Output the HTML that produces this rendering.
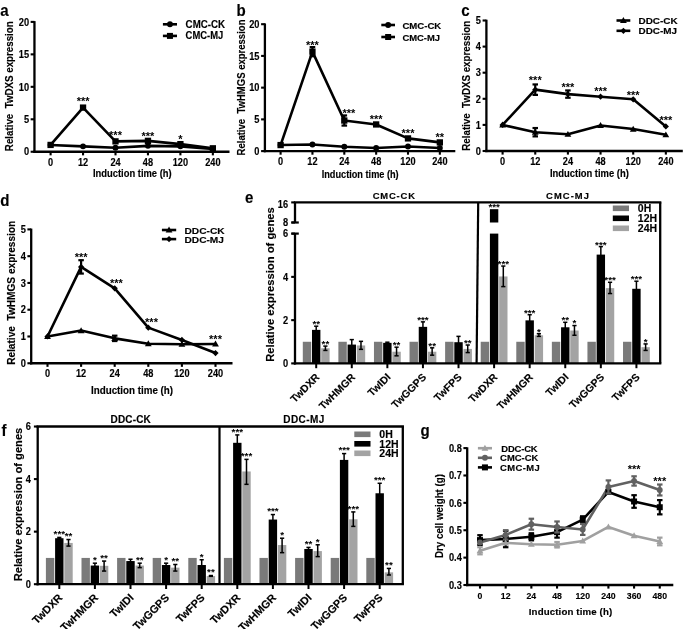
<!DOCTYPE html>
<html><head><meta charset="utf-8"><style>
html,body{margin:0;padding:0;background:#fff;}
body{width:685px;height:629px;overflow:hidden;}
svg{display:block;will-change:transform;}
text{white-space:pre;}
text{font-family:"Liberation Sans", sans-serif;}
</style></head><body>
<svg width="685" height="629" viewBox="0 0 685 629" font-family='"Liberation Sans", sans-serif'>
<rect width="685" height="629" fill="#fff"/>
<line x1="34.45" y1="21.1" x2="34.45" y2="152.9" stroke="#000" stroke-width="2.3" stroke-linecap="butt"/>
<line x1="33.3" y1="151.75" x2="229.5" y2="151.75" stroke="#000" stroke-width="2.3" stroke-linecap="butt"/>
<line x1="30.65" y1="151.75" x2="34.45" y2="151.75" stroke="#000" stroke-width="2.1" stroke-linecap="butt"/>
<text x="0" y="0" font-size="10.3" text-anchor="end" font-weight="bold" fill="#000" transform="translate(29.05 155.45) scale(0.9000 1)" stroke="#000" stroke-width="0.15">0</text>
<line x1="30.65" y1="119.29" x2="34.45" y2="119.29" stroke="#000" stroke-width="2.1" stroke-linecap="butt"/>
<text x="0" y="0" font-size="10.3" text-anchor="end" font-weight="bold" fill="#000" transform="translate(29.05 122.99) scale(0.9000 1)" stroke="#000" stroke-width="0.15">5</text>
<line x1="30.65" y1="86.83" x2="34.45" y2="86.83" stroke="#000" stroke-width="2.1" stroke-linecap="butt"/>
<text x="0" y="0" font-size="10.3" text-anchor="end" font-weight="bold" fill="#000" transform="translate(29.05 90.53) scale(0.9000 1)" stroke="#000" stroke-width="0.15">10</text>
<line x1="30.65" y1="54.36" x2="34.45" y2="54.36" stroke="#000" stroke-width="2.1" stroke-linecap="butt"/>
<text x="0" y="0" font-size="10.3" text-anchor="end" font-weight="bold" fill="#000" transform="translate(29.05 58.06) scale(0.9000 1)" stroke="#000" stroke-width="0.15">15</text>
<line x1="30.65" y1="21.9" x2="34.45" y2="21.9" stroke="#000" stroke-width="2.1" stroke-linecap="butt"/>
<text x="0" y="0" font-size="10.3" text-anchor="end" font-weight="bold" fill="#000" transform="translate(29.05 25.6) scale(0.9000 1)" stroke="#000" stroke-width="0.15">20</text>
<line x1="50.6" y1="151.75" x2="50.6" y2="155.35" stroke="#000" stroke-width="2.1" stroke-linecap="butt"/>
<text x="0" y="0" font-size="10.2" text-anchor="middle" font-weight="bold" fill="#000" transform="translate(50.6 165.85) scale(0.9000 1)" stroke="#000" stroke-width="0.15">0</text>
<line x1="83.05" y1="151.75" x2="83.05" y2="155.35" stroke="#000" stroke-width="2.1" stroke-linecap="butt"/>
<text x="0" y="0" font-size="10.2" text-anchor="middle" font-weight="bold" fill="#000" transform="translate(83.05 165.85) scale(0.9000 1)" stroke="#000" stroke-width="0.15">12</text>
<line x1="115.5" y1="151.75" x2="115.5" y2="155.35" stroke="#000" stroke-width="2.1" stroke-linecap="butt"/>
<text x="0" y="0" font-size="10.2" text-anchor="middle" font-weight="bold" fill="#000" transform="translate(115.5 165.85) scale(0.9000 1)" stroke="#000" stroke-width="0.15">24</text>
<line x1="147.95" y1="151.75" x2="147.95" y2="155.35" stroke="#000" stroke-width="2.1" stroke-linecap="butt"/>
<text x="0" y="0" font-size="10.2" text-anchor="middle" font-weight="bold" fill="#000" transform="translate(147.95 165.85) scale(0.9000 1)" stroke="#000" stroke-width="0.15">48</text>
<line x1="180.4" y1="151.75" x2="180.4" y2="155.35" stroke="#000" stroke-width="2.1" stroke-linecap="butt"/>
<text x="0" y="0" font-size="10.2" text-anchor="middle" font-weight="bold" fill="#000" transform="translate(180.4 165.85) scale(0.9000 1)" stroke="#000" stroke-width="0.15">120</text>
<line x1="212.85" y1="151.75" x2="212.85" y2="155.35" stroke="#000" stroke-width="2.1" stroke-linecap="butt"/>
<text x="0" y="0" font-size="10.2" text-anchor="middle" font-weight="bold" fill="#000" transform="translate(212.85 165.85) scale(0.9000 1)" stroke="#000" stroke-width="0.15">240</text>
<polyline points="50.6,144.93 83.05,146.36 115.5,147.72 147.95,145.84 180.4,146.36 212.85,148.83" fill="none" stroke="#000" stroke-width="2.6" stroke-linejoin="round"/>
<polyline points="50.6,144.93 83.05,107.6 115.5,141.36 147.95,140.84 180.4,144.15 212.85,148.31" fill="none" stroke="#000" stroke-width="2.6" stroke-linejoin="round"/>
<circle cx="50.6" cy="144.93" r="2.95" fill="#000"/>
<circle cx="83.05" cy="146.36" r="2.95" fill="#000"/>
<circle cx="115.5" cy="147.72" r="2.95" fill="#000"/>
<circle cx="147.95" cy="145.84" r="2.95" fill="#000"/>
<circle cx="180.4" cy="146.36" r="2.95" fill="#000"/>
<circle cx="212.85" cy="148.83" r="2.95" fill="#000"/>
<rect x="47.45" y="141.78" width="6.3" height="6.3" fill="#000"/>
<rect x="79.9" y="104.45" width="6.3" height="6.3" fill="#000"/>
<rect x="112.35" y="138.21" width="6.3" height="6.3" fill="#000"/>
<rect x="144.8" y="137.69" width="6.3" height="6.3" fill="#000"/>
<rect x="177.25" y="141" width="6.3" height="6.3" fill="#000"/>
<rect x="209.7" y="145.16" width="6.3" height="6.3" fill="#000"/>
<text x="0" y="0" font-size="11" text-anchor="middle" font-weight="bold" fill="#000" transform="translate(83.05 105)">***</text>
<text x="0" y="0" font-size="11" text-anchor="middle" font-weight="bold" fill="#000" transform="translate(115.5 138.8)">***</text>
<text x="0" y="0" font-size="11" text-anchor="middle" font-weight="bold" fill="#000" transform="translate(147.95 139.7)">***</text>
<text x="0" y="0" font-size="11" text-anchor="middle" font-weight="bold" fill="#000" transform="translate(180.4 142.5)">*</text>
<line x1="162.9" y1="24.3" x2="177" y2="24.3" stroke="#000" stroke-width="2.6" stroke-linecap="butt"/>
<circle cx="169.95" cy="24.3" r="2.95" fill="#000"/>
<text x="0" y="0" font-size="10.4" text-anchor="start" font-weight="bold" fill="#000" transform="translate(185.6 27.8) scale(0.9367 1)" stroke="#000" stroke-width="0.15">CMC-CK</text>
<line x1="162.9" y1="35.9" x2="177" y2="35.9" stroke="#000" stroke-width="2.6" stroke-linecap="butt"/>
<rect x="166.95" y="32.9" width="6" height="6" fill="#000"/>
<text x="0" y="0" font-size="10.4" text-anchor="start" font-weight="bold" fill="#000" transform="translate(185.6 39.4) scale(0.9063 1)" stroke="#000" stroke-width="0.15">CMC-MJ</text>
<text x="0" y="0" font-size="10.4" text-anchor="start" font-weight="bold" fill="#000" transform="translate(93 177.1) scale(0.9033 1)" stroke="#000" stroke-width="0.15">Induction time (h)</text>
<text x="0" y="0" font-size="10.4" text-anchor="middle" font-weight="bold" fill="#000" transform="translate(12.7 86.2) rotate(-90) scale(0.9384 1)" stroke="#000" stroke-width="0.15">Relative  TwDXS expression</text>
<text x="0" y="0" font-size="17.3" text-anchor="start" font-weight="bold" fill="#000" transform="translate(0.3 15.7) scale(0.8700 1)" stroke="#000" stroke-width="0.15">a</text>
<line x1="264.9" y1="23.4" x2="264.9" y2="152.25" stroke="#000" stroke-width="2.3" stroke-linecap="butt"/>
<line x1="263.75" y1="151.1" x2="455.3" y2="151.1" stroke="#000" stroke-width="2.3" stroke-linecap="butt"/>
<line x1="261.1" y1="151.1" x2="264.9" y2="151.1" stroke="#000" stroke-width="2.1" stroke-linecap="butt"/>
<text x="0" y="0" font-size="10.3" text-anchor="end" font-weight="bold" fill="#000" transform="translate(259.5 154.8) scale(0.9000 1)" stroke="#000" stroke-width="0.15">0</text>
<line x1="261.1" y1="119.38" x2="264.9" y2="119.38" stroke="#000" stroke-width="2.1" stroke-linecap="butt"/>
<text x="0" y="0" font-size="10.3" text-anchor="end" font-weight="bold" fill="#000" transform="translate(259.5 123.08) scale(0.9000 1)" stroke="#000" stroke-width="0.15">5</text>
<line x1="261.1" y1="87.65" x2="264.9" y2="87.65" stroke="#000" stroke-width="2.1" stroke-linecap="butt"/>
<text x="0" y="0" font-size="10.3" text-anchor="end" font-weight="bold" fill="#000" transform="translate(259.5 91.35) scale(0.9000 1)" stroke="#000" stroke-width="0.15">10</text>
<line x1="261.1" y1="55.92" x2="264.9" y2="55.92" stroke="#000" stroke-width="2.1" stroke-linecap="butt"/>
<text x="0" y="0" font-size="10.3" text-anchor="end" font-weight="bold" fill="#000" transform="translate(259.5 59.62) scale(0.9000 1)" stroke="#000" stroke-width="0.15">15</text>
<line x1="261.1" y1="24.2" x2="264.9" y2="24.2" stroke="#000" stroke-width="2.1" stroke-linecap="butt"/>
<text x="0" y="0" font-size="10.3" text-anchor="end" font-weight="bold" fill="#000" transform="translate(259.5 27.9) scale(0.9000 1)" stroke="#000" stroke-width="0.15">20</text>
<line x1="280.6" y1="151.1" x2="280.6" y2="154.7" stroke="#000" stroke-width="2.1" stroke-linecap="butt"/>
<text x="0" y="0" font-size="10.2" text-anchor="middle" font-weight="bold" fill="#000" transform="translate(280.6 165.2) scale(0.9000 1)" stroke="#000" stroke-width="0.15">0</text>
<line x1="312.45" y1="151.1" x2="312.45" y2="154.7" stroke="#000" stroke-width="2.1" stroke-linecap="butt"/>
<text x="0" y="0" font-size="10.2" text-anchor="middle" font-weight="bold" fill="#000" transform="translate(312.45 165.2) scale(0.9000 1)" stroke="#000" stroke-width="0.15">12</text>
<line x1="344.3" y1="151.1" x2="344.3" y2="154.7" stroke="#000" stroke-width="2.1" stroke-linecap="butt"/>
<text x="0" y="0" font-size="10.2" text-anchor="middle" font-weight="bold" fill="#000" transform="translate(344.3 165.2) scale(0.9000 1)" stroke="#000" stroke-width="0.15">24</text>
<line x1="376.15" y1="151.1" x2="376.15" y2="154.7" stroke="#000" stroke-width="2.1" stroke-linecap="butt"/>
<text x="0" y="0" font-size="10.2" text-anchor="middle" font-weight="bold" fill="#000" transform="translate(376.15 165.2) scale(0.9000 1)" stroke="#000" stroke-width="0.15">48</text>
<line x1="408" y1="151.1" x2="408" y2="154.7" stroke="#000" stroke-width="2.1" stroke-linecap="butt"/>
<text x="0" y="0" font-size="10.2" text-anchor="middle" font-weight="bold" fill="#000" transform="translate(408 165.2) scale(0.9000 1)" stroke="#000" stroke-width="0.15">120</text>
<line x1="439.85" y1="151.1" x2="439.85" y2="154.7" stroke="#000" stroke-width="2.1" stroke-linecap="butt"/>
<text x="0" y="0" font-size="10.2" text-anchor="middle" font-weight="bold" fill="#000" transform="translate(439.85 165.2) scale(0.9000 1)" stroke="#000" stroke-width="0.15">240</text>
<polyline points="280.6,145.07 312.45,144.56 344.3,146.79 376.15,147.93 408,146.53 439.85,147.93" fill="none" stroke="#000" stroke-width="2.6" stroke-linejoin="round"/>
<polyline points="280.6,145.07 312.45,51.67 344.3,120.52 376.15,124.45 408,138.41 439.85,142.41" fill="none" stroke="#000" stroke-width="2.6" stroke-linejoin="round"/>
<circle cx="280.6" cy="145.07" r="2.95" fill="#000"/>
<circle cx="312.45" cy="144.56" r="2.95" fill="#000"/>
<circle cx="344.3" cy="146.79" r="2.95" fill="#000"/>
<circle cx="376.15" cy="147.93" r="2.95" fill="#000"/>
<circle cx="408" cy="146.53" r="2.95" fill="#000"/>
<circle cx="439.85" cy="147.93" r="2.95" fill="#000"/>
<rect x="277.45" y="141.92" width="6.3" height="6.3" fill="#000"/>
<line x1="312.45" y1="47.11" x2="312.45" y2="56.24" stroke="#000" stroke-width="2.2" stroke-linecap="butt"/>
<line x1="309.65" y1="47.11" x2="315.25" y2="47.11" stroke="#000" stroke-width="2.2" stroke-linecap="butt"/>
<line x1="309.65" y1="56.24" x2="315.25" y2="56.24" stroke="#000" stroke-width="2.2" stroke-linecap="butt"/>
<rect x="309.3" y="48.52" width="6.3" height="6.3" fill="#000"/>
<line x1="344.3" y1="115.44" x2="344.3" y2="125.59" stroke="#000" stroke-width="2.2" stroke-linecap="butt"/>
<line x1="341.5" y1="115.44" x2="347.1" y2="115.44" stroke="#000" stroke-width="2.2" stroke-linecap="butt"/>
<line x1="341.5" y1="125.59" x2="347.1" y2="125.59" stroke="#000" stroke-width="2.2" stroke-linecap="butt"/>
<rect x="341.15" y="117.37" width="6.3" height="6.3" fill="#000"/>
<rect x="373" y="121.3" width="6.3" height="6.3" fill="#000"/>
<rect x="404.85" y="135.26" width="6.3" height="6.3" fill="#000"/>
<rect x="436.7" y="139.26" width="6.3" height="6.3" fill="#000"/>
<text x="0" y="0" font-size="11" text-anchor="middle" font-weight="bold" fill="#000" transform="translate(312.45 48.59)">***</text>
<text x="0" y="0" font-size="11" text-anchor="middle" font-weight="bold" fill="#000" transform="translate(348.8 116.59)">***</text>
<text x="0" y="0" font-size="11" text-anchor="middle" font-weight="bold" fill="#000" transform="translate(376.15 122.7)">***</text>
<text x="0" y="0" font-size="11" text-anchor="middle" font-weight="bold" fill="#000" transform="translate(408 136.6)">***</text>
<text x="0" y="0" font-size="11" text-anchor="middle" font-weight="bold" fill="#000" transform="translate(439.85 140.7)">**</text>
<line x1="381.3" y1="25" x2="395" y2="25" stroke="#000" stroke-width="2.6" stroke-linecap="butt"/>
<circle cx="388.15" cy="25" r="2.95" fill="#000"/>
<text x="0" y="0" font-size="9.9" text-anchor="start" font-weight="bold" fill="#000" transform="translate(402.4 28.5) scale(0.9690 1)" stroke="#000" stroke-width="0.15">CMC-CK</text>
<line x1="381.3" y1="37" x2="395" y2="37" stroke="#000" stroke-width="2.6" stroke-linecap="butt"/>
<rect x="385.15" y="34" width="6" height="6" fill="#000"/>
<text x="0" y="0" font-size="9.9" text-anchor="start" font-weight="bold" fill="#000" transform="translate(402.4 40.5) scale(0.9546 1)" stroke="#000" stroke-width="0.15">CMC-MJ</text>
<text x="0" y="0" font-size="10.4" text-anchor="start" font-weight="bold" fill="#000" transform="translate(321.7 177.8) scale(0.8838 1)" stroke="#000" stroke-width="0.15">Induction time (h)</text>
<text x="0" y="0" font-size="10.4" text-anchor="middle" font-weight="bold" fill="#000" transform="translate(244.6 87.5) rotate(-90) scale(0.9168 1)" stroke="#000" stroke-width="0.15">Relative  TwHMGS expression</text>
<text x="0" y="0" font-size="17.3" text-anchor="start" font-weight="bold" fill="#000" transform="translate(236.6 15.7) scale(0.8700 1)" stroke="#000" stroke-width="0.15">b</text>
<line x1="486.4" y1="19.7" x2="486.4" y2="152.15" stroke="#000" stroke-width="2.3" stroke-linecap="butt"/>
<line x1="485.25" y1="151" x2="682.8" y2="151" stroke="#000" stroke-width="2.3" stroke-linecap="butt"/>
<line x1="482.6" y1="151" x2="486.4" y2="151" stroke="#000" stroke-width="2.1" stroke-linecap="butt"/>
<text x="0" y="0" font-size="10.3" text-anchor="end" font-weight="bold" fill="#000" transform="translate(481 154.7) scale(0.9000 1)" stroke="#000" stroke-width="0.15">0</text>
<line x1="482.6" y1="124.9" x2="486.4" y2="124.9" stroke="#000" stroke-width="2.1" stroke-linecap="butt"/>
<text x="0" y="0" font-size="10.3" text-anchor="end" font-weight="bold" fill="#000" transform="translate(481 128.6) scale(0.9000 1)" stroke="#000" stroke-width="0.15">1</text>
<line x1="482.6" y1="98.8" x2="486.4" y2="98.8" stroke="#000" stroke-width="2.1" stroke-linecap="butt"/>
<text x="0" y="0" font-size="10.3" text-anchor="end" font-weight="bold" fill="#000" transform="translate(481 102.5) scale(0.9000 1)" stroke="#000" stroke-width="0.15">2</text>
<line x1="482.6" y1="72.7" x2="486.4" y2="72.7" stroke="#000" stroke-width="2.1" stroke-linecap="butt"/>
<text x="0" y="0" font-size="10.3" text-anchor="end" font-weight="bold" fill="#000" transform="translate(481 76.4) scale(0.9000 1)" stroke="#000" stroke-width="0.15">3</text>
<line x1="482.6" y1="46.6" x2="486.4" y2="46.6" stroke="#000" stroke-width="2.1" stroke-linecap="butt"/>
<text x="0" y="0" font-size="10.3" text-anchor="end" font-weight="bold" fill="#000" transform="translate(481 50.3) scale(0.9000 1)" stroke="#000" stroke-width="0.15">4</text>
<line x1="482.6" y1="20.5" x2="486.4" y2="20.5" stroke="#000" stroke-width="2.1" stroke-linecap="butt"/>
<text x="0" y="0" font-size="10.3" text-anchor="end" font-weight="bold" fill="#000" transform="translate(481 24.2) scale(0.9000 1)" stroke="#000" stroke-width="0.15">5</text>
<line x1="502.6" y1="151" x2="502.6" y2="154.6" stroke="#000" stroke-width="2.1" stroke-linecap="butt"/>
<text x="0" y="0" font-size="10.2" text-anchor="middle" font-weight="bold" fill="#000" transform="translate(502.6 165.1) scale(0.9000 1)" stroke="#000" stroke-width="0.15">0</text>
<line x1="535.25" y1="151" x2="535.25" y2="154.6" stroke="#000" stroke-width="2.1" stroke-linecap="butt"/>
<text x="0" y="0" font-size="10.2" text-anchor="middle" font-weight="bold" fill="#000" transform="translate(535.25 165.1) scale(0.9000 1)" stroke="#000" stroke-width="0.15">12</text>
<line x1="567.9" y1="151" x2="567.9" y2="154.6" stroke="#000" stroke-width="2.1" stroke-linecap="butt"/>
<text x="0" y="0" font-size="10.2" text-anchor="middle" font-weight="bold" fill="#000" transform="translate(567.9 165.1) scale(0.9000 1)" stroke="#000" stroke-width="0.15">24</text>
<line x1="600.55" y1="151" x2="600.55" y2="154.6" stroke="#000" stroke-width="2.1" stroke-linecap="butt"/>
<text x="0" y="0" font-size="10.2" text-anchor="middle" font-weight="bold" fill="#000" transform="translate(600.55 165.1) scale(0.9000 1)" stroke="#000" stroke-width="0.15">48</text>
<line x1="633.2" y1="151" x2="633.2" y2="154.6" stroke="#000" stroke-width="2.1" stroke-linecap="butt"/>
<text x="0" y="0" font-size="10.2" text-anchor="middle" font-weight="bold" fill="#000" transform="translate(633.2 165.1) scale(0.9000 1)" stroke="#000" stroke-width="0.15">120</text>
<line x1="665.85" y1="151" x2="665.85" y2="154.6" stroke="#000" stroke-width="2.1" stroke-linecap="butt"/>
<text x="0" y="0" font-size="10.2" text-anchor="middle" font-weight="bold" fill="#000" transform="translate(665.85 165.1) scale(0.9000 1)" stroke="#000" stroke-width="0.15">240</text>
<polyline points="502.6,124.9 535.25,132.21 567.9,134.3 600.55,125.42 633.2,129.08 665.85,134.82" fill="none" stroke="#000" stroke-width="2.6" stroke-linejoin="round"/>
<polyline points="502.6,124.9 535.25,89.66 567.9,94.1 600.55,96.71 633.2,99.32 665.85,126.47" fill="none" stroke="#000" stroke-width="2.6" stroke-linejoin="round"/>
<polygon points="502.6,121.5 506,127.45 499.2,127.45" fill="#000"/>
<line x1="535.25" y1="128.03" x2="535.25" y2="136.38" stroke="#000" stroke-width="2.2" stroke-linecap="butt"/>
<line x1="532.5" y1="128.03" x2="538" y2="128.03" stroke="#000" stroke-width="2.2" stroke-linecap="butt"/>
<line x1="532.5" y1="136.38" x2="538" y2="136.38" stroke="#000" stroke-width="2.2" stroke-linecap="butt"/>
<polygon points="535.25,128.81 538.65,134.76 531.85,134.76" fill="#000"/>
<polygon points="567.9,130.9 571.3,136.85 564.5,136.85" fill="#000"/>
<polygon points="600.55,122.02 603.95,127.97 597.15,127.97" fill="#000"/>
<polygon points="633.2,125.68 636.6,131.63 629.8,131.63" fill="#000"/>
<polygon points="665.85,131.42 669.25,137.37 662.45,137.37" fill="#000"/>
<polygon points="502.6,121.8 505.7,124.9 502.6,128 499.5,124.9" fill="#000"/>
<line x1="535.25" y1="84.44" x2="535.25" y2="94.88" stroke="#000" stroke-width="2.2" stroke-linecap="butt"/>
<line x1="532.5" y1="84.44" x2="538" y2="84.44" stroke="#000" stroke-width="2.2" stroke-linecap="butt"/>
<line x1="532.5" y1="94.88" x2="538" y2="94.88" stroke="#000" stroke-width="2.2" stroke-linecap="butt"/>
<polygon points="535.25,86.56 538.35,89.66 535.25,92.76 532.15,89.66" fill="#000"/>
<line x1="567.9" y1="90.45" x2="567.9" y2="97.76" stroke="#000" stroke-width="2.2" stroke-linecap="butt"/>
<line x1="565.15" y1="90.45" x2="570.65" y2="90.45" stroke="#000" stroke-width="2.2" stroke-linecap="butt"/>
<line x1="565.15" y1="97.76" x2="570.65" y2="97.76" stroke="#000" stroke-width="2.2" stroke-linecap="butt"/>
<polygon points="567.9,91 571,94.1 567.9,97.2 564.8,94.1" fill="#000"/>
<polygon points="600.55,93.61 603.65,96.71 600.55,99.81 597.45,96.71" fill="#000"/>
<polygon points="633.2,96.22 636.3,99.32 633.2,102.42 630.1,99.32" fill="#000"/>
<polygon points="665.85,123.37 668.95,126.47 665.85,129.57 662.75,126.47" fill="#000"/>
<text x="0" y="0" font-size="11" text-anchor="middle" font-weight="bold" fill="#000" transform="translate(535.25 84.09)">***</text>
<text x="0" y="0" font-size="11" text-anchor="middle" font-weight="bold" fill="#000" transform="translate(567.9 90.8)">***</text>
<text x="0" y="0" font-size="11" text-anchor="middle" font-weight="bold" fill="#000" transform="translate(600.55 95.3)">***</text>
<text x="0" y="0" font-size="11" text-anchor="middle" font-weight="bold" fill="#000" transform="translate(633.2 99.3)">***</text>
<text x="0" y="0" font-size="11" text-anchor="middle" font-weight="bold" fill="#000" transform="translate(665.85 123.8)">***</text>
<line x1="616.5" y1="20.5" x2="630.3" y2="20.5" stroke="#000" stroke-width="2.6" stroke-linecap="butt"/>
<polygon points="623.4,17.1 626.8,23.05 620,23.05" fill="#000"/>
<text x="0" y="0" font-size="9.6" text-anchor="start" font-weight="bold" fill="#000" transform="translate(638.5 24) scale(1.0353 1)" stroke="#000" stroke-width="0.15">DDC-CK</text>
<line x1="616.5" y1="30.8" x2="630.3" y2="30.8" stroke="#000" stroke-width="2.6" stroke-linecap="butt"/>
<polygon points="623.4,27.7 626.5,30.8 623.4,33.9 620.3,30.8" fill="#000"/>
<text x="0" y="0" font-size="9.6" text-anchor="start" font-weight="bold" fill="#000" transform="translate(638.5 34.3) scale(1.0313 1)" stroke="#000" stroke-width="0.15">DDC-MJ</text>
<text x="0" y="0" font-size="10.4" text-anchor="start" font-weight="bold" fill="#000" transform="translate(549.9 177.2) scale(0.9068 1)" stroke="#000" stroke-width="0.15">Induction time (h)</text>
<text x="0" y="0" font-size="10.4" text-anchor="middle" font-weight="bold" fill="#000" transform="translate(470.3 85.75) rotate(-90) scale(0.9384 1)" stroke="#000" stroke-width="0.15">Relative  TwDXS expression</text>
<text x="0" y="0" font-size="17.3" text-anchor="start" font-weight="bold" fill="#000" transform="translate(461.2 15.7) scale(0.8700 1)" stroke="#000" stroke-width="0.15">c</text>
<line x1="31.2" y1="228.6" x2="31.2" y2="364.4" stroke="#000" stroke-width="2.3" stroke-linecap="butt"/>
<line x1="30.05" y1="363.25" x2="232.5" y2="363.25" stroke="#000" stroke-width="2.3" stroke-linecap="butt"/>
<line x1="27.4" y1="363.25" x2="31.2" y2="363.25" stroke="#000" stroke-width="2.1" stroke-linecap="butt"/>
<text x="0" y="0" font-size="10.3" text-anchor="end" font-weight="bold" fill="#000" transform="translate(25.8 366.95) scale(0.9000 1)" stroke="#000" stroke-width="0.15">0</text>
<line x1="27.4" y1="336.48" x2="31.2" y2="336.48" stroke="#000" stroke-width="2.1" stroke-linecap="butt"/>
<text x="0" y="0" font-size="10.3" text-anchor="end" font-weight="bold" fill="#000" transform="translate(25.8 340.18) scale(0.9000 1)" stroke="#000" stroke-width="0.15">1</text>
<line x1="27.4" y1="309.71" x2="31.2" y2="309.71" stroke="#000" stroke-width="2.1" stroke-linecap="butt"/>
<text x="0" y="0" font-size="10.3" text-anchor="end" font-weight="bold" fill="#000" transform="translate(25.8 313.41) scale(0.9000 1)" stroke="#000" stroke-width="0.15">2</text>
<line x1="27.4" y1="282.94" x2="31.2" y2="282.94" stroke="#000" stroke-width="2.1" stroke-linecap="butt"/>
<text x="0" y="0" font-size="10.3" text-anchor="end" font-weight="bold" fill="#000" transform="translate(25.8 286.64) scale(0.9000 1)" stroke="#000" stroke-width="0.15">3</text>
<line x1="27.4" y1="256.17" x2="31.2" y2="256.17" stroke="#000" stroke-width="2.1" stroke-linecap="butt"/>
<text x="0" y="0" font-size="10.3" text-anchor="end" font-weight="bold" fill="#000" transform="translate(25.8 259.87) scale(0.9000 1)" stroke="#000" stroke-width="0.15">4</text>
<line x1="27.4" y1="229.4" x2="31.2" y2="229.4" stroke="#000" stroke-width="2.1" stroke-linecap="butt"/>
<text x="0" y="0" font-size="10.3" text-anchor="end" font-weight="bold" fill="#000" transform="translate(25.8 233.1) scale(0.9000 1)" stroke="#000" stroke-width="0.15">5</text>
<line x1="47.5" y1="363.25" x2="47.5" y2="366.85" stroke="#000" stroke-width="2.1" stroke-linecap="butt"/>
<text x="0" y="0" font-size="10.2" text-anchor="middle" font-weight="bold" fill="#000" transform="translate(47.5 377.35) scale(0.9000 1)" stroke="#000" stroke-width="0.15">0</text>
<line x1="81.1" y1="363.25" x2="81.1" y2="366.85" stroke="#000" stroke-width="2.1" stroke-linecap="butt"/>
<text x="0" y="0" font-size="10.2" text-anchor="middle" font-weight="bold" fill="#000" transform="translate(81.1 377.35) scale(0.9000 1)" stroke="#000" stroke-width="0.15">12</text>
<line x1="114.7" y1="363.25" x2="114.7" y2="366.85" stroke="#000" stroke-width="2.1" stroke-linecap="butt"/>
<text x="0" y="0" font-size="10.2" text-anchor="middle" font-weight="bold" fill="#000" transform="translate(114.7 377.35) scale(0.9000 1)" stroke="#000" stroke-width="0.15">24</text>
<line x1="148.3" y1="363.25" x2="148.3" y2="366.85" stroke="#000" stroke-width="2.1" stroke-linecap="butt"/>
<text x="0" y="0" font-size="10.2" text-anchor="middle" font-weight="bold" fill="#000" transform="translate(148.3 377.35) scale(0.9000 1)" stroke="#000" stroke-width="0.15">48</text>
<line x1="181.9" y1="363.25" x2="181.9" y2="366.85" stroke="#000" stroke-width="2.1" stroke-linecap="butt"/>
<text x="0" y="0" font-size="10.2" text-anchor="middle" font-weight="bold" fill="#000" transform="translate(181.9 377.35) scale(0.9000 1)" stroke="#000" stroke-width="0.15">120</text>
<line x1="215.5" y1="363.25" x2="215.5" y2="366.85" stroke="#000" stroke-width="2.1" stroke-linecap="butt"/>
<text x="0" y="0" font-size="10.2" text-anchor="middle" font-weight="bold" fill="#000" transform="translate(215.5 377.35) scale(0.9000 1)" stroke="#000" stroke-width="0.15">240</text>
<polyline points="47.5,336.48 81.1,330.59 114.7,338.35 148.3,343.71 181.9,344.24 215.5,343.98" fill="none" stroke="#000" stroke-width="2.6" stroke-linejoin="round"/>
<polyline points="47.5,336.48 81.1,266.88 114.7,288.29 148.3,327.65 181.9,339.96 215.5,353.08" fill="none" stroke="#000" stroke-width="2.6" stroke-linejoin="round"/>
<polygon points="47.5,333.08 50.9,339.03 44.1,339.03" fill="#000"/>
<polygon points="81.1,327.19 84.5,333.14 77.7,333.14" fill="#000"/>
<line x1="114.7" y1="335.68" x2="114.7" y2="341.03" stroke="#000" stroke-width="2.2" stroke-linecap="butt"/>
<line x1="111.95" y1="335.68" x2="117.45" y2="335.68" stroke="#000" stroke-width="2.2" stroke-linecap="butt"/>
<line x1="111.95" y1="341.03" x2="117.45" y2="341.03" stroke="#000" stroke-width="2.2" stroke-linecap="butt"/>
<polygon points="114.7,334.95 118.1,340.9 111.3,340.9" fill="#000"/>
<polygon points="148.3,340.31 151.7,346.26 144.9,346.26" fill="#000"/>
<polygon points="181.9,340.84 185.3,346.79 178.5,346.79" fill="#000"/>
<polygon points="215.5,340.58 218.9,346.53 212.1,346.53" fill="#000"/>
<polygon points="47.5,333.38 50.6,336.48 47.5,339.58 44.4,336.48" fill="#000"/>
<line x1="81.1" y1="260.19" x2="81.1" y2="273.57" stroke="#000" stroke-width="2.2" stroke-linecap="butt"/>
<line x1="78.35" y1="260.19" x2="83.85" y2="260.19" stroke="#000" stroke-width="2.2" stroke-linecap="butt"/>
<line x1="78.35" y1="273.57" x2="83.85" y2="273.57" stroke="#000" stroke-width="2.2" stroke-linecap="butt"/>
<polygon points="81.1,263.78 84.2,266.88 81.1,269.98 78,266.88" fill="#000"/>
<polygon points="114.7,285.19 117.8,288.29 114.7,291.39 111.6,288.29" fill="#000"/>
<polygon points="148.3,324.55 151.4,327.65 148.3,330.75 145.2,327.65" fill="#000"/>
<polygon points="181.9,336.86 185,339.96 181.9,343.06 178.8,339.96" fill="#000"/>
<polygon points="215.5,349.98 218.6,353.08 215.5,356.18 212.4,353.08" fill="#000"/>
<text x="0" y="0" font-size="11" text-anchor="middle" font-weight="bold" fill="#000" transform="translate(81.1 260.6)">***</text>
<text x="0" y="0" font-size="11" text-anchor="middle" font-weight="bold" fill="#000" transform="translate(116.3 286.9)">***</text>
<text x="0" y="0" font-size="11" text-anchor="middle" font-weight="bold" fill="#000" transform="translate(151.5 326.3)">***</text>
<text x="0" y="0" font-size="11" text-anchor="middle" font-weight="bold" fill="#000" transform="translate(215.5 343.19)">***</text>
<line x1="161.9" y1="230" x2="176.2" y2="230" stroke="#000" stroke-width="2.6" stroke-linecap="butt"/>
<polygon points="169.05,226.6 172.45,232.55 165.65,232.55" fill="#000"/>
<text x="0" y="0" font-size="9.8" text-anchor="start" font-weight="bold" fill="#000" transform="translate(184.5 233.5) scale(1.0401 1)" stroke="#000" stroke-width="0.15">DDC-CK</text>
<line x1="161.9" y1="239.1" x2="176.2" y2="239.1" stroke="#000" stroke-width="2.6" stroke-linecap="butt"/>
<polygon points="169.05,236 172.15,239.1 169.05,242.2 165.95,239.1" fill="#000"/>
<text x="0" y="0" font-size="9.8" text-anchor="start" font-weight="bold" fill="#000" transform="translate(184.5 242.6) scale(1.0365 1)" stroke="#000" stroke-width="0.15">DDC-MJ</text>
<text x="0" y="0" font-size="10.4" text-anchor="start" font-weight="bold" fill="#000" transform="translate(91 393.7) scale(0.9423 1)" stroke="#000" stroke-width="0.15">Induction time (h)</text>
<text x="0" y="0" font-size="10.8" text-anchor="middle" font-weight="bold" fill="#000" transform="translate(14.8 292.8) rotate(-90) scale(0.9361 1)" stroke="#000" stroke-width="0.15">Relative  TwHMGS expression</text>
<text x="0" y="0" font-size="17.3" text-anchor="start" font-weight="bold" fill="#000" transform="translate(0.2 205.5) scale(0.8700 1)" stroke="#000" stroke-width="0.15">d</text>
<rect x="302.8" y="341.77" width="8.4" height="21.63" fill="#7a7a7a"/>
<rect x="312" y="329.87" width="8.4" height="33.53" fill="#000"/>
<line x1="316.2" y1="326.2" x2="316.2" y2="333.12" stroke="#000" stroke-width="1.5" stroke-linecap="butt"/>
<line x1="314.1" y1="326.2" x2="318.3" y2="326.2" stroke="#000" stroke-width="1.5" stroke-linecap="butt"/>
<line x1="314.1" y1="333.12" x2="318.3" y2="333.12" stroke="#000" stroke-width="1.5" stroke-linecap="butt"/>
<text x="0" y="0" font-size="9.8" text-anchor="middle" font-weight="bold" fill="#000" transform="translate(316.2 327.14)">**</text>
<rect x="321.2" y="348.26" width="8.4" height="15.14" fill="#a3a3a3"/>
<line x1="325.4" y1="346.1" x2="325.4" y2="350.42" stroke="#000" stroke-width="1.5" stroke-linecap="butt"/>
<line x1="323.3" y1="346.1" x2="327.5" y2="346.1" stroke="#000" stroke-width="1.5" stroke-linecap="butt"/>
<line x1="323.3" y1="350.42" x2="327.5" y2="350.42" stroke="#000" stroke-width="1.5" stroke-linecap="butt"/>
<text x="0" y="0" font-size="9.8" text-anchor="middle" font-weight="bold" fill="#000" transform="translate(325.4 347.04)">**</text>
<rect x="338.38" y="341.77" width="8.4" height="21.63" fill="#7a7a7a"/>
<rect x="347.58" y="344.58" width="8.4" height="18.82" fill="#000"/>
<line x1="351.78" y1="339.61" x2="351.78" y2="349.34" stroke="#000" stroke-width="1.5" stroke-linecap="butt"/>
<line x1="349.68" y1="339.61" x2="353.88" y2="339.61" stroke="#000" stroke-width="1.5" stroke-linecap="butt"/>
<line x1="349.68" y1="349.34" x2="353.88" y2="349.34" stroke="#000" stroke-width="1.5" stroke-linecap="butt"/>
<rect x="356.78" y="345.45" width="8.4" height="17.95" fill="#a3a3a3"/>
<line x1="360.98" y1="341.34" x2="360.98" y2="349.34" stroke="#000" stroke-width="1.5" stroke-linecap="butt"/>
<line x1="358.88" y1="341.34" x2="363.08" y2="341.34" stroke="#000" stroke-width="1.5" stroke-linecap="butt"/>
<line x1="358.88" y1="349.34" x2="363.08" y2="349.34" stroke="#000" stroke-width="1.5" stroke-linecap="butt"/>
<rect x="373.96" y="341.77" width="8.4" height="21.63" fill="#7a7a7a"/>
<rect x="383.16" y="342.85" width="8.4" height="20.55" fill="#000"/>
<line x1="387.36" y1="342.2" x2="387.36" y2="343.5" stroke="#000" stroke-width="1.5" stroke-linecap="butt"/>
<line x1="385.26" y1="342.2" x2="389.46" y2="342.2" stroke="#000" stroke-width="1.5" stroke-linecap="butt"/>
<line x1="385.26" y1="343.5" x2="389.46" y2="343.5" stroke="#000" stroke-width="1.5" stroke-linecap="butt"/>
<rect x="392.36" y="351.72" width="8.4" height="11.68" fill="#a3a3a3"/>
<line x1="396.56" y1="347.18" x2="396.56" y2="355.83" stroke="#000" stroke-width="1.5" stroke-linecap="butt"/>
<line x1="394.46" y1="347.18" x2="398.66" y2="347.18" stroke="#000" stroke-width="1.5" stroke-linecap="butt"/>
<line x1="394.46" y1="355.83" x2="398.66" y2="355.83" stroke="#000" stroke-width="1.5" stroke-linecap="butt"/>
<text x="0" y="0" font-size="9.8" text-anchor="middle" font-weight="bold" fill="#000" transform="translate(396.56 348.12)">**</text>
<rect x="409.54" y="341.77" width="8.4" height="21.63" fill="#7a7a7a"/>
<rect x="418.74" y="326.85" width="8.4" height="36.55" fill="#000"/>
<line x1="422.94" y1="321.87" x2="422.94" y2="330.95" stroke="#000" stroke-width="1.5" stroke-linecap="butt"/>
<line x1="420.84" y1="321.87" x2="425.04" y2="321.87" stroke="#000" stroke-width="1.5" stroke-linecap="butt"/>
<line x1="420.84" y1="330.95" x2="425.04" y2="330.95" stroke="#000" stroke-width="1.5" stroke-linecap="butt"/>
<text x="0" y="0" font-size="9.8" text-anchor="middle" font-weight="bold" fill="#000" transform="translate(422.94 322.81)">***</text>
<rect x="427.94" y="351.72" width="8.4" height="11.68" fill="#a3a3a3"/>
<line x1="432.14" y1="347.83" x2="432.14" y2="355.18" stroke="#000" stroke-width="1.5" stroke-linecap="butt"/>
<line x1="430.04" y1="347.83" x2="434.24" y2="347.83" stroke="#000" stroke-width="1.5" stroke-linecap="butt"/>
<line x1="430.04" y1="355.18" x2="434.24" y2="355.18" stroke="#000" stroke-width="1.5" stroke-linecap="butt"/>
<text x="0" y="0" font-size="9.8" text-anchor="middle" font-weight="bold" fill="#000" transform="translate(432.14 348.77)">**</text>
<rect x="445.12" y="341.77" width="8.4" height="21.63" fill="#7a7a7a"/>
<rect x="454.32" y="342.2" width="8.4" height="21.2" fill="#000"/>
<line x1="458.52" y1="336.36" x2="458.52" y2="348.26" stroke="#000" stroke-width="1.5" stroke-linecap="butt"/>
<line x1="456.42" y1="336.36" x2="460.62" y2="336.36" stroke="#000" stroke-width="1.5" stroke-linecap="butt"/>
<line x1="456.42" y1="348.26" x2="460.62" y2="348.26" stroke="#000" stroke-width="1.5" stroke-linecap="butt"/>
<rect x="463.52" y="348.91" width="8.4" height="14.49" fill="#a3a3a3"/>
<line x1="467.72" y1="345.01" x2="467.72" y2="352.58" stroke="#000" stroke-width="1.5" stroke-linecap="butt"/>
<line x1="465.62" y1="345.01" x2="469.82" y2="345.01" stroke="#000" stroke-width="1.5" stroke-linecap="butt"/>
<line x1="465.62" y1="352.58" x2="469.82" y2="352.58" stroke="#000" stroke-width="1.5" stroke-linecap="butt"/>
<text x="0" y="0" font-size="9.8" text-anchor="middle" font-weight="bold" fill="#000" transform="translate(467.72 345.96)">**</text>
<rect x="480.7" y="341.77" width="8.4" height="21.63" fill="#7a7a7a"/>
<rect x="489.9" y="233.6" width="8.4" height="129.8" fill="#000"/>
<rect x="489.9" y="209.18" width="8.4" height="13.32" fill="#000"/>
<text x="0" y="0" font-size="9.8" text-anchor="middle" font-weight="bold" fill="#000" transform="translate(494.1 210.12)">***</text>
<rect x="499.1" y="276.45" width="8.4" height="86.95" fill="#a3a3a3"/>
<line x1="503.3" y1="266.06" x2="503.3" y2="286.61" stroke="#000" stroke-width="1.5" stroke-linecap="butt"/>
<line x1="501.2" y1="266.06" x2="505.4" y2="266.06" stroke="#000" stroke-width="1.5" stroke-linecap="butt"/>
<line x1="501.2" y1="286.61" x2="505.4" y2="286.61" stroke="#000" stroke-width="1.5" stroke-linecap="butt"/>
<text x="0" y="0" font-size="9.8" text-anchor="middle" font-weight="bold" fill="#000" transform="translate(503.3 267.01)">***</text>
<rect x="516.28" y="341.77" width="8.4" height="21.63" fill="#7a7a7a"/>
<rect x="525.48" y="320.36" width="8.4" height="43.04" fill="#000"/>
<line x1="529.68" y1="314.73" x2="529.68" y2="325.55" stroke="#000" stroke-width="1.5" stroke-linecap="butt"/>
<line x1="527.58" y1="314.73" x2="531.78" y2="314.73" stroke="#000" stroke-width="1.5" stroke-linecap="butt"/>
<line x1="527.58" y1="325.55" x2="531.78" y2="325.55" stroke="#000" stroke-width="1.5" stroke-linecap="butt"/>
<text x="0" y="0" font-size="9.8" text-anchor="middle" font-weight="bold" fill="#000" transform="translate(529.68 315.67)">***</text>
<rect x="534.68" y="335.28" width="8.4" height="28.12" fill="#a3a3a3"/>
<line x1="538.88" y1="333.77" x2="538.88" y2="336.36" stroke="#000" stroke-width="1.5" stroke-linecap="butt"/>
<line x1="536.78" y1="333.77" x2="540.98" y2="333.77" stroke="#000" stroke-width="1.5" stroke-linecap="butt"/>
<line x1="536.78" y1="336.36" x2="540.98" y2="336.36" stroke="#000" stroke-width="1.5" stroke-linecap="butt"/>
<text x="0" y="0" font-size="9.8" text-anchor="middle" font-weight="bold" fill="#000" transform="translate(538.88 334.71)">*</text>
<rect x="551.86" y="341.77" width="8.4" height="21.63" fill="#7a7a7a"/>
<rect x="561.06" y="327.28" width="8.4" height="36.12" fill="#000"/>
<line x1="565.26" y1="322.3" x2="565.26" y2="332.04" stroke="#000" stroke-width="1.5" stroke-linecap="butt"/>
<line x1="563.16" y1="322.3" x2="567.36" y2="322.3" stroke="#000" stroke-width="1.5" stroke-linecap="butt"/>
<line x1="563.16" y1="332.04" x2="567.36" y2="332.04" stroke="#000" stroke-width="1.5" stroke-linecap="butt"/>
<text x="0" y="0" font-size="9.8" text-anchor="middle" font-weight="bold" fill="#000" transform="translate(565.26 323.24)">**</text>
<rect x="570.26" y="330.52" width="8.4" height="32.88" fill="#a3a3a3"/>
<line x1="574.46" y1="325.55" x2="574.46" y2="335.28" stroke="#000" stroke-width="1.5" stroke-linecap="butt"/>
<line x1="572.36" y1="325.55" x2="576.56" y2="325.55" stroke="#000" stroke-width="1.5" stroke-linecap="butt"/>
<line x1="572.36" y1="335.28" x2="576.56" y2="335.28" stroke="#000" stroke-width="1.5" stroke-linecap="butt"/>
<text x="0" y="0" font-size="9.8" text-anchor="middle" font-weight="bold" fill="#000" transform="translate(574.46 326.49)">*</text>
<rect x="587.44" y="341.77" width="8.4" height="21.63" fill="#7a7a7a"/>
<rect x="596.64" y="254.6" width="8.4" height="108.8" fill="#000"/>
<line x1="600.84" y1="246.6" x2="600.84" y2="261.74" stroke="#000" stroke-width="1.5" stroke-linecap="butt"/>
<line x1="598.74" y1="246.6" x2="602.94" y2="246.6" stroke="#000" stroke-width="1.5" stroke-linecap="butt"/>
<line x1="598.74" y1="261.74" x2="602.94" y2="261.74" stroke="#000" stroke-width="1.5" stroke-linecap="butt"/>
<text x="0" y="0" font-size="9.8" text-anchor="middle" font-weight="bold" fill="#000" transform="translate(600.84 247.54)">***</text>
<rect x="605.84" y="288.13" width="8.4" height="75.27" fill="#a3a3a3"/>
<line x1="610.04" y1="282.29" x2="610.04" y2="293.54" stroke="#000" stroke-width="1.5" stroke-linecap="butt"/>
<line x1="607.94" y1="282.29" x2="612.14" y2="282.29" stroke="#000" stroke-width="1.5" stroke-linecap="butt"/>
<line x1="607.94" y1="293.54" x2="612.14" y2="293.54" stroke="#000" stroke-width="1.5" stroke-linecap="butt"/>
<text x="0" y="0" font-size="9.8" text-anchor="middle" font-weight="bold" fill="#000" transform="translate(610.04 283.23)">***</text>
<rect x="623.02" y="341.77" width="8.4" height="21.63" fill="#7a7a7a"/>
<rect x="632.22" y="288.78" width="8.4" height="74.62" fill="#000"/>
<line x1="636.42" y1="281.21" x2="636.42" y2="296.35" stroke="#000" stroke-width="1.5" stroke-linecap="butt"/>
<line x1="634.32" y1="281.21" x2="638.52" y2="281.21" stroke="#000" stroke-width="1.5" stroke-linecap="butt"/>
<line x1="634.32" y1="296.35" x2="638.52" y2="296.35" stroke="#000" stroke-width="1.5" stroke-linecap="butt"/>
<text x="0" y="0" font-size="9.8" text-anchor="middle" font-weight="bold" fill="#000" transform="translate(636.42 282.15)">***</text>
<rect x="641.42" y="347.18" width="8.4" height="16.22" fill="#a3a3a3"/>
<line x1="645.62" y1="343.93" x2="645.62" y2="350.42" stroke="#000" stroke-width="1.5" stroke-linecap="butt"/>
<line x1="643.52" y1="343.93" x2="647.72" y2="343.93" stroke="#000" stroke-width="1.5" stroke-linecap="butt"/>
<line x1="643.52" y1="350.42" x2="647.72" y2="350.42" stroke="#000" stroke-width="1.5" stroke-linecap="butt"/>
<text x="0" y="0" font-size="9.8" text-anchor="middle" font-weight="bold" fill="#000" transform="translate(645.62 344.87)">*</text>
<line x1="295" y1="202.4" x2="295" y2="222.5" stroke="#000" stroke-width="2.3" stroke-linecap="butt"/>
<line x1="295" y1="233.6" x2="295" y2="364.55" stroke="#000" stroke-width="2.3" stroke-linecap="butt"/>
<line x1="291.5" y1="222.5" x2="298.8" y2="222.5" stroke="#000" stroke-width="2.2" stroke-linecap="butt"/>
<line x1="291.5" y1="233.6" x2="298.8" y2="233.6" stroke="#000" stroke-width="2.2" stroke-linecap="butt"/>
<line x1="293.85" y1="363.4" x2="661.35" y2="363.4" stroke="#000" stroke-width="2.3" stroke-linecap="butt"/>
<line x1="293.85" y1="202.4" x2="661.35" y2="202.4" stroke="#000" stroke-width="2.3" stroke-linecap="butt"/>
<line x1="660.2" y1="202.4" x2="660.2" y2="363.4" stroke="#000" stroke-width="2.3" stroke-linecap="butt"/>
<line x1="478.2" y1="202.4" x2="476.6" y2="363.4" stroke="#000" stroke-width="2.2" stroke-linecap="butt"/>
<line x1="291.2" y1="363.4" x2="295" y2="363.4" stroke="#000" stroke-width="2.1" stroke-linecap="butt"/>
<text x="0" y="0" font-size="10.3" text-anchor="end" font-weight="bold" fill="#000" transform="translate(288.1 367.1) scale(0.9000 1)" stroke="#000" stroke-width="0.15">0</text>
<line x1="291.2" y1="320.14" x2="295" y2="320.14" stroke="#000" stroke-width="2.1" stroke-linecap="butt"/>
<text x="0" y="0" font-size="10.3" text-anchor="end" font-weight="bold" fill="#000" transform="translate(288.1 323.84) scale(0.9000 1)" stroke="#000" stroke-width="0.15">2</text>
<line x1="291.2" y1="276.88" x2="295" y2="276.88" stroke="#000" stroke-width="2.1" stroke-linecap="butt"/>
<text x="0" y="0" font-size="10.3" text-anchor="end" font-weight="bold" fill="#000" transform="translate(288.1 280.58) scale(0.9000 1)" stroke="#000" stroke-width="0.15">4</text>
<line x1="291.2" y1="233.62" x2="295" y2="233.62" stroke="#000" stroke-width="2.1" stroke-linecap="butt"/>
<text x="0" y="0" font-size="10.3" text-anchor="end" font-weight="bold" fill="#000" transform="translate(288.1 237.32) scale(0.9000 1)" stroke="#000" stroke-width="0.15">6</text>
<line x1="291.2" y1="222.5" x2="295" y2="222.5" stroke="#000" stroke-width="2.1" stroke-linecap="butt"/>
<text x="0" y="0" font-size="10.3" text-anchor="end" font-weight="bold" fill="#000" transform="translate(288.1 226.2) scale(0.9000 1)" stroke="#000" stroke-width="0.15">8</text>
<line x1="291.2" y1="202.4" x2="295" y2="202.4" stroke="#000" stroke-width="2.1" stroke-linecap="butt"/>
<text x="0" y="0" font-size="10.3" text-anchor="end" font-weight="bold" fill="#000" transform="translate(288.1 207.7) scale(0.9000 1)" stroke="#000" stroke-width="0.15">16</text>
<line x1="316.2" y1="363.4" x2="316.2" y2="368.2" stroke="#000" stroke-width="2.0" stroke-linecap="butt"/>
<text x="0" y="0" font-size="10.5" text-anchor="end" font-weight="bold" fill="#000" transform="translate(320.2 377.8) rotate(-45)" stroke="#000" stroke-width="0.15">TwDXR</text>
<line x1="351.78" y1="363.4" x2="351.78" y2="368.2" stroke="#000" stroke-width="2.0" stroke-linecap="butt"/>
<text x="0" y="0" font-size="10.5" text-anchor="end" font-weight="bold" fill="#000" transform="translate(355.78 377.8) rotate(-45)" stroke="#000" stroke-width="0.15">TwHMGR</text>
<line x1="387.36" y1="363.4" x2="387.36" y2="368.2" stroke="#000" stroke-width="2.0" stroke-linecap="butt"/>
<text x="0" y="0" font-size="10.5" text-anchor="end" font-weight="bold" fill="#000" transform="translate(391.36 377.8) rotate(-45)" stroke="#000" stroke-width="0.15">TwIDI</text>
<line x1="422.94" y1="363.4" x2="422.94" y2="368.2" stroke="#000" stroke-width="2.0" stroke-linecap="butt"/>
<text x="0" y="0" font-size="10.5" text-anchor="end" font-weight="bold" fill="#000" transform="translate(426.94 377.8) rotate(-45)" stroke="#000" stroke-width="0.15">TwGGPS</text>
<line x1="458.52" y1="363.4" x2="458.52" y2="368.2" stroke="#000" stroke-width="2.0" stroke-linecap="butt"/>
<text x="0" y="0" font-size="10.5" text-anchor="end" font-weight="bold" fill="#000" transform="translate(462.52 377.8) rotate(-45)" stroke="#000" stroke-width="0.15">TwFPS</text>
<line x1="494.1" y1="363.4" x2="494.1" y2="368.2" stroke="#000" stroke-width="2.0" stroke-linecap="butt"/>
<text x="0" y="0" font-size="10.5" text-anchor="end" font-weight="bold" fill="#000" transform="translate(498.1 377.8) rotate(-45)" stroke="#000" stroke-width="0.15">TwDXR</text>
<line x1="529.68" y1="363.4" x2="529.68" y2="368.2" stroke="#000" stroke-width="2.0" stroke-linecap="butt"/>
<text x="0" y="0" font-size="10.5" text-anchor="end" font-weight="bold" fill="#000" transform="translate(533.68 377.8) rotate(-45)" stroke="#000" stroke-width="0.15">TwHMGR</text>
<line x1="565.26" y1="363.4" x2="565.26" y2="368.2" stroke="#000" stroke-width="2.0" stroke-linecap="butt"/>
<text x="0" y="0" font-size="10.5" text-anchor="end" font-weight="bold" fill="#000" transform="translate(569.26 377.8) rotate(-45)" stroke="#000" stroke-width="0.15">TwIDI</text>
<line x1="600.84" y1="363.4" x2="600.84" y2="368.2" stroke="#000" stroke-width="2.0" stroke-linecap="butt"/>
<text x="0" y="0" font-size="10.5" text-anchor="end" font-weight="bold" fill="#000" transform="translate(604.84 377.8) rotate(-45)" stroke="#000" stroke-width="0.15">TwGGPS</text>
<line x1="636.42" y1="363.4" x2="636.42" y2="368.2" stroke="#000" stroke-width="2.0" stroke-linecap="butt"/>
<text x="0" y="0" font-size="10.5" text-anchor="end" font-weight="bold" fill="#000" transform="translate(640.42 377.8) rotate(-45)" stroke="#000" stroke-width="0.15">TwFPS</text>
<text x="0" y="0" font-size="9.4" text-anchor="middle" font-weight="bold" fill="#000" letter-spacing="0.857" transform="translate(394.23 198.8)" stroke="#000" stroke-width="0.15">CMC-CK</text>
<text x="0" y="0" font-size="9.4" text-anchor="middle" font-weight="bold" fill="#000" letter-spacing="1.081" transform="translate(568.04 198.8)" stroke="#000" stroke-width="0.15">CMC-MJ</text>
<rect x="612.8" y="205.5" width="16.2" height="5.6" fill="#7a7a7a"/>
<text x="0" y="0" font-size="10.5" text-anchor="start" font-weight="bold" fill="#000" transform="translate(637.8 212.3)" stroke="#000" stroke-width="0.15">0H</text>
<rect x="612.8" y="215.5" width="16.2" height="5.6" fill="#000"/>
<text x="0" y="0" font-size="10.5" text-anchor="start" font-weight="bold" fill="#000" transform="translate(637.8 222.3)" stroke="#000" stroke-width="0.15">12H</text>
<rect x="612.8" y="225.5" width="16.2" height="5.6" fill="#a3a3a3"/>
<text x="0" y="0" font-size="10.5" text-anchor="start" font-weight="bold" fill="#000" transform="translate(637.8 232.3)" stroke="#000" stroke-width="0.15">24H</text>
<text x="0" y="0" font-size="11" text-anchor="middle" font-weight="bold" fill="#000" transform="translate(274.4 284.5) rotate(-90) scale(1.0203 1)" stroke="#000" stroke-width="0.15">Relative expression of genes</text>
<text x="0" y="0" font-size="17.3" text-anchor="start" font-weight="bold" fill="#000" transform="translate(244.9 203) scale(0.8700 1)" stroke="#000" stroke-width="0.15">e</text>
<rect x="45.9" y="557.92" width="8.4" height="26.28" fill="#7a7a7a"/>
<rect x="55.1" y="538.21" width="8.4" height="45.99" fill="#000"/>
<line x1="59.3" y1="537.42" x2="59.3" y2="539" stroke="#000" stroke-width="1.5" stroke-linecap="butt"/>
<line x1="57.2" y1="537.42" x2="61.4" y2="537.42" stroke="#000" stroke-width="1.5" stroke-linecap="butt"/>
<line x1="57.2" y1="539" x2="61.4" y2="539" stroke="#000" stroke-width="1.5" stroke-linecap="butt"/>
<text x="0" y="0" font-size="9.8" text-anchor="middle" font-weight="bold" fill="#000" transform="translate(59.3 537.16)">***</text>
<rect x="64.3" y="542.94" width="8.4" height="41.26" fill="#a3a3a3"/>
<line x1="68.5" y1="539.52" x2="68.5" y2="546.09" stroke="#000" stroke-width="1.5" stroke-linecap="butt"/>
<line x1="66.4" y1="539.52" x2="70.6" y2="539.52" stroke="#000" stroke-width="1.5" stroke-linecap="butt"/>
<line x1="66.4" y1="546.09" x2="70.6" y2="546.09" stroke="#000" stroke-width="1.5" stroke-linecap="butt"/>
<text x="0" y="0" font-size="9.8" text-anchor="middle" font-weight="bold" fill="#000" transform="translate(68.5 539.26)">**</text>
<rect x="81.5" y="557.92" width="8.4" height="26.28" fill="#7a7a7a"/>
<rect x="90.7" y="565.54" width="8.4" height="18.66" fill="#000"/>
<line x1="94.9" y1="563.18" x2="94.9" y2="567.91" stroke="#000" stroke-width="1.5" stroke-linecap="butt"/>
<line x1="92.8" y1="563.18" x2="97" y2="563.18" stroke="#000" stroke-width="1.5" stroke-linecap="butt"/>
<line x1="92.8" y1="567.91" x2="97" y2="567.91" stroke="#000" stroke-width="1.5" stroke-linecap="butt"/>
<text x="0" y="0" font-size="9.8" text-anchor="middle" font-weight="bold" fill="#000" transform="translate(94.9 562.92)">*</text>
<rect x="99.9" y="565.8" width="8.4" height="18.4" fill="#a3a3a3"/>
<line x1="104.1" y1="561.07" x2="104.1" y2="571.06" stroke="#000" stroke-width="1.5" stroke-linecap="butt"/>
<line x1="102" y1="561.07" x2="106.2" y2="561.07" stroke="#000" stroke-width="1.5" stroke-linecap="butt"/>
<line x1="102" y1="571.06" x2="106.2" y2="571.06" stroke="#000" stroke-width="1.5" stroke-linecap="butt"/>
<text x="0" y="0" font-size="9.8" text-anchor="middle" font-weight="bold" fill="#000" transform="translate(104.1 560.81)">**</text>
<rect x="117.1" y="557.92" width="8.4" height="26.28" fill="#7a7a7a"/>
<rect x="126.3" y="561.07" width="8.4" height="23.13" fill="#000"/>
<line x1="130.5" y1="559.23" x2="130.5" y2="561.86" stroke="#000" stroke-width="1.5" stroke-linecap="butt"/>
<line x1="128.4" y1="559.23" x2="132.6" y2="559.23" stroke="#000" stroke-width="1.5" stroke-linecap="butt"/>
<line x1="128.4" y1="561.86" x2="132.6" y2="561.86" stroke="#000" stroke-width="1.5" stroke-linecap="butt"/>
<rect x="135.5" y="565.54" width="8.4" height="18.66" fill="#a3a3a3"/>
<line x1="139.7" y1="563.18" x2="139.7" y2="567.64" stroke="#000" stroke-width="1.5" stroke-linecap="butt"/>
<line x1="137.6" y1="563.18" x2="141.8" y2="563.18" stroke="#000" stroke-width="1.5" stroke-linecap="butt"/>
<line x1="137.6" y1="567.64" x2="141.8" y2="567.64" stroke="#000" stroke-width="1.5" stroke-linecap="butt"/>
<text x="0" y="0" font-size="9.8" text-anchor="middle" font-weight="bold" fill="#000" transform="translate(139.7 562.92)">**</text>
<rect x="152.7" y="557.92" width="8.4" height="26.28" fill="#7a7a7a"/>
<rect x="161.9" y="565.02" width="8.4" height="19.18" fill="#000"/>
<line x1="166.1" y1="563.18" x2="166.1" y2="566.33" stroke="#000" stroke-width="1.5" stroke-linecap="butt"/>
<line x1="164" y1="563.18" x2="168.2" y2="563.18" stroke="#000" stroke-width="1.5" stroke-linecap="butt"/>
<line x1="164" y1="566.33" x2="168.2" y2="566.33" stroke="#000" stroke-width="1.5" stroke-linecap="butt"/>
<text x="0" y="0" font-size="9.8" text-anchor="middle" font-weight="bold" fill="#000" transform="translate(166.1 562.92)">*</text>
<rect x="171.1" y="567.64" width="8.4" height="16.56" fill="#a3a3a3"/>
<line x1="175.3" y1="564.49" x2="175.3" y2="571.06" stroke="#000" stroke-width="1.5" stroke-linecap="butt"/>
<line x1="173.2" y1="564.49" x2="177.4" y2="564.49" stroke="#000" stroke-width="1.5" stroke-linecap="butt"/>
<line x1="173.2" y1="571.06" x2="177.4" y2="571.06" stroke="#000" stroke-width="1.5" stroke-linecap="butt"/>
<text x="0" y="0" font-size="9.8" text-anchor="middle" font-weight="bold" fill="#000" transform="translate(175.3 564.23)">**</text>
<rect x="188.3" y="557.92" width="8.4" height="26.28" fill="#7a7a7a"/>
<rect x="197.5" y="565.02" width="8.4" height="19.18" fill="#000"/>
<line x1="201.7" y1="559.76" x2="201.7" y2="569.75" stroke="#000" stroke-width="1.5" stroke-linecap="butt"/>
<line x1="199.6" y1="559.76" x2="203.8" y2="559.76" stroke="#000" stroke-width="1.5" stroke-linecap="butt"/>
<line x1="199.6" y1="569.75" x2="203.8" y2="569.75" stroke="#000" stroke-width="1.5" stroke-linecap="butt"/>
<text x="0" y="0" font-size="9.8" text-anchor="middle" font-weight="bold" fill="#000" transform="translate(201.7 559.5)">*</text>
<rect x="206.7" y="576.05" width="8.4" height="8.15" fill="#a3a3a3"/>
<line x1="210.9" y1="575.53" x2="210.9" y2="576.32" stroke="#000" stroke-width="1.5" stroke-linecap="butt"/>
<line x1="208.8" y1="575.53" x2="213" y2="575.53" stroke="#000" stroke-width="1.5" stroke-linecap="butt"/>
<line x1="208.8" y1="576.32" x2="213" y2="576.32" stroke="#000" stroke-width="1.5" stroke-linecap="butt"/>
<text x="0" y="0" font-size="9.8" text-anchor="middle" font-weight="bold" fill="#000" transform="translate(210.9 575.27)">**</text>
<rect x="223.9" y="557.92" width="8.4" height="26.28" fill="#7a7a7a"/>
<rect x="233.1" y="442.81" width="8.4" height="141.39" fill="#000"/>
<line x1="237.3" y1="434.93" x2="237.3" y2="450.17" stroke="#000" stroke-width="1.5" stroke-linecap="butt"/>
<line x1="235.2" y1="434.93" x2="239.4" y2="434.93" stroke="#000" stroke-width="1.5" stroke-linecap="butt"/>
<line x1="235.2" y1="450.17" x2="239.4" y2="450.17" stroke="#000" stroke-width="1.5" stroke-linecap="butt"/>
<text x="0" y="0" font-size="9.8" text-anchor="middle" font-weight="bold" fill="#000" transform="translate(237.3 434.67)">***</text>
<rect x="242.3" y="471.46" width="8.4" height="112.74" fill="#a3a3a3"/>
<line x1="246.5" y1="459.37" x2="246.5" y2="484.34" stroke="#000" stroke-width="1.5" stroke-linecap="butt"/>
<line x1="244.4" y1="459.37" x2="248.6" y2="459.37" stroke="#000" stroke-width="1.5" stroke-linecap="butt"/>
<line x1="244.4" y1="484.34" x2="248.6" y2="484.34" stroke="#000" stroke-width="1.5" stroke-linecap="butt"/>
<text x="0" y="0" font-size="9.8" text-anchor="middle" font-weight="bold" fill="#000" transform="translate(246.5 459.11)">***</text>
<rect x="259.5" y="557.92" width="8.4" height="26.28" fill="#7a7a7a"/>
<rect x="268.7" y="519.55" width="8.4" height="64.65" fill="#000"/>
<line x1="272.9" y1="514.56" x2="272.9" y2="525.07" stroke="#000" stroke-width="1.5" stroke-linecap="butt"/>
<line x1="270.8" y1="514.56" x2="275" y2="514.56" stroke="#000" stroke-width="1.5" stroke-linecap="butt"/>
<line x1="270.8" y1="525.07" x2="275" y2="525.07" stroke="#000" stroke-width="1.5" stroke-linecap="butt"/>
<text x="0" y="0" font-size="9.8" text-anchor="middle" font-weight="bold" fill="#000" transform="translate(272.9 514.3)">***</text>
<rect x="277.9" y="545.04" width="8.4" height="39.16" fill="#a3a3a3"/>
<line x1="282.1" y1="538.21" x2="282.1" y2="552.66" stroke="#000" stroke-width="1.5" stroke-linecap="butt"/>
<line x1="280" y1="538.21" x2="284.2" y2="538.21" stroke="#000" stroke-width="1.5" stroke-linecap="butt"/>
<line x1="280" y1="552.66" x2="284.2" y2="552.66" stroke="#000" stroke-width="1.5" stroke-linecap="butt"/>
<text x="0" y="0" font-size="9.8" text-anchor="middle" font-weight="bold" fill="#000" transform="translate(282.1 537.95)">*</text>
<rect x="295.1" y="557.92" width="8.4" height="26.28" fill="#7a7a7a"/>
<rect x="304.3" y="548.98" width="8.4" height="35.22" fill="#000"/>
<line x1="308.5" y1="547.41" x2="308.5" y2="550.04" stroke="#000" stroke-width="1.5" stroke-linecap="butt"/>
<line x1="306.4" y1="547.41" x2="310.6" y2="547.41" stroke="#000" stroke-width="1.5" stroke-linecap="butt"/>
<line x1="306.4" y1="550.04" x2="310.6" y2="550.04" stroke="#000" stroke-width="1.5" stroke-linecap="butt"/>
<text x="0" y="0" font-size="9.8" text-anchor="middle" font-weight="bold" fill="#000" transform="translate(308.5 547.15)">**</text>
<rect x="313.5" y="551.09" width="8.4" height="33.11" fill="#a3a3a3"/>
<line x1="317.7" y1="544.78" x2="317.7" y2="556.61" stroke="#000" stroke-width="1.5" stroke-linecap="butt"/>
<line x1="315.6" y1="544.78" x2="319.8" y2="544.78" stroke="#000" stroke-width="1.5" stroke-linecap="butt"/>
<line x1="315.6" y1="556.61" x2="319.8" y2="556.61" stroke="#000" stroke-width="1.5" stroke-linecap="butt"/>
<text x="0" y="0" font-size="9.8" text-anchor="middle" font-weight="bold" fill="#000" transform="translate(317.7 544.52)">*</text>
<rect x="330.7" y="557.92" width="8.4" height="26.28" fill="#7a7a7a"/>
<rect x="339.9" y="459.9" width="8.4" height="124.3" fill="#000"/>
<line x1="344.1" y1="453.59" x2="344.1" y2="465.94" stroke="#000" stroke-width="1.5" stroke-linecap="butt"/>
<line x1="342" y1="453.59" x2="346.2" y2="453.59" stroke="#000" stroke-width="1.5" stroke-linecap="butt"/>
<line x1="342" y1="465.94" x2="346.2" y2="465.94" stroke="#000" stroke-width="1.5" stroke-linecap="butt"/>
<text x="0" y="0" font-size="9.8" text-anchor="middle" font-weight="bold" fill="#000" transform="translate(344.1 453.33)">***</text>
<rect x="349.1" y="519.29" width="8.4" height="64.91" fill="#a3a3a3"/>
<line x1="353.3" y1="511.93" x2="353.3" y2="526.38" stroke="#000" stroke-width="1.5" stroke-linecap="butt"/>
<line x1="351.2" y1="511.93" x2="355.4" y2="511.93" stroke="#000" stroke-width="1.5" stroke-linecap="butt"/>
<line x1="351.2" y1="526.38" x2="355.4" y2="526.38" stroke="#000" stroke-width="1.5" stroke-linecap="butt"/>
<text x="0" y="0" font-size="9.8" text-anchor="middle" font-weight="bold" fill="#000" transform="translate(353.3 511.67)">***</text>
<rect x="366.3" y="557.92" width="8.4" height="26.28" fill="#7a7a7a"/>
<rect x="375.5" y="493.27" width="8.4" height="90.93" fill="#000"/>
<line x1="379.7" y1="483.28" x2="379.7" y2="502.73" stroke="#000" stroke-width="1.5" stroke-linecap="butt"/>
<line x1="377.6" y1="483.28" x2="381.8" y2="483.28" stroke="#000" stroke-width="1.5" stroke-linecap="butt"/>
<line x1="377.6" y1="502.73" x2="381.8" y2="502.73" stroke="#000" stroke-width="1.5" stroke-linecap="butt"/>
<text x="0" y="0" font-size="9.8" text-anchor="middle" font-weight="bold" fill="#000" transform="translate(379.7 483.03)">***</text>
<rect x="384.7" y="572.37" width="8.4" height="11.83" fill="#a3a3a3"/>
<line x1="388.9" y1="568.43" x2="388.9" y2="575" stroke="#000" stroke-width="1.5" stroke-linecap="butt"/>
<line x1="386.8" y1="568.43" x2="391" y2="568.43" stroke="#000" stroke-width="1.5" stroke-linecap="butt"/>
<line x1="386.8" y1="575" x2="391" y2="575" stroke="#000" stroke-width="1.5" stroke-linecap="butt"/>
<text x="0" y="0" font-size="9.8" text-anchor="middle" font-weight="bold" fill="#000" transform="translate(388.9 568.17)">**</text>
<line x1="37.7" y1="426.5" x2="37.7" y2="585.35" stroke="#000" stroke-width="2.3" stroke-linecap="butt"/>
<line x1="36.55" y1="584.2" x2="403.95" y2="584.2" stroke="#000" stroke-width="2.3" stroke-linecap="butt"/>
<line x1="36.55" y1="426.5" x2="403.95" y2="426.5" stroke="#000" stroke-width="2.3" stroke-linecap="butt"/>
<line x1="402.8" y1="426.5" x2="402.8" y2="584.2" stroke="#000" stroke-width="2.3" stroke-linecap="butt"/>
<line x1="219.5" y1="426.5" x2="219.5" y2="584.2" stroke="#000" stroke-width="2.2" stroke-linecap="butt"/>
<line x1="33.9" y1="584.2" x2="37.7" y2="584.2" stroke="#000" stroke-width="2.1" stroke-linecap="butt"/>
<text x="0" y="0" font-size="10.3" text-anchor="end" font-weight="bold" fill="#000" transform="translate(30.8 587.9) scale(0.9000 1)" stroke="#000" stroke-width="0.15">0</text>
<line x1="33.9" y1="531.64" x2="37.7" y2="531.64" stroke="#000" stroke-width="2.1" stroke-linecap="butt"/>
<text x="0" y="0" font-size="10.3" text-anchor="end" font-weight="bold" fill="#000" transform="translate(30.8 535.34) scale(0.9000 1)" stroke="#000" stroke-width="0.15">2</text>
<line x1="33.9" y1="479.08" x2="37.7" y2="479.08" stroke="#000" stroke-width="2.1" stroke-linecap="butt"/>
<text x="0" y="0" font-size="10.3" text-anchor="end" font-weight="bold" fill="#000" transform="translate(30.8 482.78) scale(0.9000 1)" stroke="#000" stroke-width="0.15">4</text>
<line x1="33.9" y1="426.52" x2="37.7" y2="426.52" stroke="#000" stroke-width="2.1" stroke-linecap="butt"/>
<text x="0" y="0" font-size="10.3" text-anchor="end" font-weight="bold" fill="#000" transform="translate(30.8 430.22) scale(0.9000 1)" stroke="#000" stroke-width="0.15">6</text>
<line x1="59.3" y1="584.2" x2="59.3" y2="589" stroke="#000" stroke-width="2.0" stroke-linecap="butt"/>
<text x="0" y="0" font-size="10.9" text-anchor="end" font-weight="bold" fill="#000" transform="translate(63.1 598.4) rotate(-45)" stroke="#000" stroke-width="0.15">TwDXR</text>
<line x1="94.9" y1="584.2" x2="94.9" y2="589" stroke="#000" stroke-width="2.0" stroke-linecap="butt"/>
<text x="0" y="0" font-size="10.9" text-anchor="end" font-weight="bold" fill="#000" transform="translate(98.7 598.4) rotate(-45)" stroke="#000" stroke-width="0.15">TwHMGR</text>
<line x1="130.5" y1="584.2" x2="130.5" y2="589" stroke="#000" stroke-width="2.0" stroke-linecap="butt"/>
<text x="0" y="0" font-size="10.9" text-anchor="end" font-weight="bold" fill="#000" transform="translate(134.3 598.4) rotate(-45)" stroke="#000" stroke-width="0.15">TwIDI</text>
<line x1="166.1" y1="584.2" x2="166.1" y2="589" stroke="#000" stroke-width="2.0" stroke-linecap="butt"/>
<text x="0" y="0" font-size="10.9" text-anchor="end" font-weight="bold" fill="#000" transform="translate(169.9 598.4) rotate(-45)" stroke="#000" stroke-width="0.15">TwGGPS</text>
<line x1="201.7" y1="584.2" x2="201.7" y2="589" stroke="#000" stroke-width="2.0" stroke-linecap="butt"/>
<text x="0" y="0" font-size="10.9" text-anchor="end" font-weight="bold" fill="#000" transform="translate(205.5 598.4) rotate(-45)" stroke="#000" stroke-width="0.15">TwFPS</text>
<line x1="237.3" y1="584.2" x2="237.3" y2="589" stroke="#000" stroke-width="2.0" stroke-linecap="butt"/>
<text x="0" y="0" font-size="10.9" text-anchor="end" font-weight="bold" fill="#000" transform="translate(241.1 598.4) rotate(-45)" stroke="#000" stroke-width="0.15">TwDXR</text>
<line x1="272.9" y1="584.2" x2="272.9" y2="589" stroke="#000" stroke-width="2.0" stroke-linecap="butt"/>
<text x="0" y="0" font-size="10.9" text-anchor="end" font-weight="bold" fill="#000" transform="translate(276.7 598.4) rotate(-45)" stroke="#000" stroke-width="0.15">TwHMGR</text>
<line x1="308.5" y1="584.2" x2="308.5" y2="589" stroke="#000" stroke-width="2.0" stroke-linecap="butt"/>
<text x="0" y="0" font-size="10.9" text-anchor="end" font-weight="bold" fill="#000" transform="translate(312.3 598.4) rotate(-45)" stroke="#000" stroke-width="0.15">TwIDI</text>
<line x1="344.1" y1="584.2" x2="344.1" y2="589" stroke="#000" stroke-width="2.0" stroke-linecap="butt"/>
<text x="0" y="0" font-size="10.9" text-anchor="end" font-weight="bold" fill="#000" transform="translate(347.9 598.4) rotate(-45)" stroke="#000" stroke-width="0.15">TwGGPS</text>
<line x1="379.7" y1="584.2" x2="379.7" y2="589" stroke="#000" stroke-width="2.0" stroke-linecap="butt"/>
<text x="0" y="0" font-size="10.9" text-anchor="end" font-weight="bold" fill="#000" transform="translate(383.5 598.4) rotate(-45)" stroke="#000" stroke-width="0.15">TwFPS</text>
<text x="0" y="0" font-size="10" text-anchor="middle" font-weight="bold" fill="#000" letter-spacing="0.152" transform="translate(130.78 423.4)" stroke="#000" stroke-width="0.15">DDC-CK</text>
<text x="0" y="0" font-size="10" text-anchor="middle" font-weight="bold" fill="#000" letter-spacing="0.462" transform="translate(304.03 423.4)" stroke="#000" stroke-width="0.15">DDC-MJ</text>
<rect x="354.3" y="431.5" width="16.2" height="5.6" fill="#7a7a7a"/>
<text x="0" y="0" font-size="10.5" text-anchor="start" font-weight="bold" fill="#000" transform="translate(379.3 438.3)" stroke="#000" stroke-width="0.15">0H</text>
<rect x="354.3" y="441" width="16.2" height="5.6" fill="#000"/>
<text x="0" y="0" font-size="10.5" text-anchor="start" font-weight="bold" fill="#000" transform="translate(379.3 447.8)" stroke="#000" stroke-width="0.15">12H</text>
<rect x="354.3" y="450.5" width="16.2" height="5.6" fill="#a3a3a3"/>
<text x="0" y="0" font-size="10.5" text-anchor="start" font-weight="bold" fill="#000" transform="translate(379.3 457.3)" stroke="#000" stroke-width="0.15">24H</text>
<text x="0" y="0" font-size="10.8" text-anchor="middle" font-weight="bold" fill="#000" transform="translate(21.9 504.5) rotate(-90) scale(1.0332 1)" stroke="#000" stroke-width="0.15">Relative expression of genes</text>
<text x="0" y="0" font-size="17.3" text-anchor="start" font-weight="bold" fill="#000" transform="translate(1.5 436) scale(0.8700 1)" stroke="#000" stroke-width="0.15">f</text>
<line x1="467.2" y1="447.3" x2="467.2" y2="586.15" stroke="#000" stroke-width="2.3" stroke-linecap="butt"/>
<line x1="466.05" y1="585" x2="673.3" y2="585" stroke="#000" stroke-width="2.3" stroke-linecap="butt"/>
<line x1="463.4" y1="585" x2="467.2" y2="585" stroke="#000" stroke-width="2.1" stroke-linecap="butt"/>
<text x="0" y="0" font-size="10.3" text-anchor="end" font-weight="bold" fill="#000" transform="translate(461.8 588.7) scale(0.9000 1)" stroke="#000" stroke-width="0.15">0.3</text>
<line x1="463.4" y1="557.62" x2="467.2" y2="557.62" stroke="#000" stroke-width="2.1" stroke-linecap="butt"/>
<text x="0" y="0" font-size="10.3" text-anchor="end" font-weight="bold" fill="#000" transform="translate(461.8 561.32) scale(0.9000 1)" stroke="#000" stroke-width="0.15">0.4</text>
<line x1="463.4" y1="530.24" x2="467.2" y2="530.24" stroke="#000" stroke-width="2.1" stroke-linecap="butt"/>
<text x="0" y="0" font-size="10.3" text-anchor="end" font-weight="bold" fill="#000" transform="translate(461.8 533.94) scale(0.9000 1)" stroke="#000" stroke-width="0.15">0.5</text>
<line x1="463.4" y1="502.86" x2="467.2" y2="502.86" stroke="#000" stroke-width="2.1" stroke-linecap="butt"/>
<text x="0" y="0" font-size="10.3" text-anchor="end" font-weight="bold" fill="#000" transform="translate(461.8 506.56) scale(0.9000 1)" stroke="#000" stroke-width="0.15">0.6</text>
<line x1="463.4" y1="475.48" x2="467.2" y2="475.48" stroke="#000" stroke-width="2.1" stroke-linecap="butt"/>
<text x="0" y="0" font-size="10.3" text-anchor="end" font-weight="bold" fill="#000" transform="translate(461.8 479.18) scale(0.9000 1)" stroke="#000" stroke-width="0.15">0.7</text>
<line x1="463.4" y1="448.1" x2="467.2" y2="448.1" stroke="#000" stroke-width="2.1" stroke-linecap="butt"/>
<text x="0" y="0" font-size="10.3" text-anchor="end" font-weight="bold" fill="#000" transform="translate(461.8 451.8) scale(0.9000 1)" stroke="#000" stroke-width="0.15">0.8</text>
<line x1="480" y1="585" x2="480" y2="588.6" stroke="#000" stroke-width="2.1" stroke-linecap="butt"/>
<text x="0" y="0" font-size="9.7" text-anchor="middle" font-weight="bold" fill="#000" transform="translate(480 599) scale(0.9000 1)" stroke="#000" stroke-width="0.15">0</text>
<line x1="505.68" y1="585" x2="505.68" y2="588.6" stroke="#000" stroke-width="2.1" stroke-linecap="butt"/>
<text x="0" y="0" font-size="9.7" text-anchor="middle" font-weight="bold" fill="#000" transform="translate(505.68 599) scale(0.9000 1)" stroke="#000" stroke-width="0.15">12</text>
<line x1="531.36" y1="585" x2="531.36" y2="588.6" stroke="#000" stroke-width="2.1" stroke-linecap="butt"/>
<text x="0" y="0" font-size="9.7" text-anchor="middle" font-weight="bold" fill="#000" transform="translate(531.36 599) scale(0.9000 1)" stroke="#000" stroke-width="0.15">24</text>
<line x1="557.04" y1="585" x2="557.04" y2="588.6" stroke="#000" stroke-width="2.1" stroke-linecap="butt"/>
<text x="0" y="0" font-size="9.7" text-anchor="middle" font-weight="bold" fill="#000" transform="translate(557.04 599) scale(0.9000 1)" stroke="#000" stroke-width="0.15">48</text>
<line x1="582.72" y1="585" x2="582.72" y2="588.6" stroke="#000" stroke-width="2.1" stroke-linecap="butt"/>
<text x="0" y="0" font-size="9.7" text-anchor="middle" font-weight="bold" fill="#000" transform="translate(582.72 599) scale(0.9000 1)" stroke="#000" stroke-width="0.15">120</text>
<line x1="608.4" y1="585" x2="608.4" y2="588.6" stroke="#000" stroke-width="2.1" stroke-linecap="butt"/>
<text x="0" y="0" font-size="9.7" text-anchor="middle" font-weight="bold" fill="#000" transform="translate(608.4 599) scale(0.9000 1)" stroke="#000" stroke-width="0.15">240</text>
<line x1="634.08" y1="585" x2="634.08" y2="588.6" stroke="#000" stroke-width="2.1" stroke-linecap="butt"/>
<text x="0" y="0" font-size="9.7" text-anchor="middle" font-weight="bold" fill="#000" transform="translate(634.08 599) scale(0.9000 1)" stroke="#000" stroke-width="0.15">360</text>
<line x1="659.76" y1="585" x2="659.76" y2="588.6" stroke="#000" stroke-width="2.1" stroke-linecap="butt"/>
<text x="0" y="0" font-size="9.7" text-anchor="middle" font-weight="bold" fill="#000" transform="translate(659.76 599) scale(0.9000 1)" stroke="#000" stroke-width="0.15">480</text>
<polyline points="480,540.1 505.68,539 531.36,536.81 557.04,532.16 582.72,519.56 608.4,491.91 634.08,501.49 659.76,507.24" fill="none" stroke="#000" stroke-width="2.6" stroke-linejoin="round"/>
<polyline points="480,542.56 505.68,534.89 531.36,524.22 557.04,526.95 582.72,529.42 608.4,486.98 634.08,480.96 659.76,489.99" fill="none" stroke="#616161" stroke-width="2.6" stroke-linejoin="round"/>
<polyline points="480,550.77 505.68,542.83 531.36,544.2 557.04,544.75 582.72,540.92 608.4,526.95 634.08,535.72 659.76,541.47" fill="none" stroke="#a0a0a0" stroke-width="2.6" stroke-linejoin="round"/>
<line x1="480" y1="535.17" x2="480" y2="545.03" stroke="#000" stroke-width="2.2" stroke-linecap="butt"/>
<line x1="477.25" y1="535.17" x2="482.75" y2="535.17" stroke="#000" stroke-width="2.2" stroke-linecap="butt"/>
<line x1="477.25" y1="545.03" x2="482.75" y2="545.03" stroke="#000" stroke-width="2.2" stroke-linecap="butt"/>
<rect x="477" y="537.1" width="6" height="6" fill="#000"/>
<line x1="505.68" y1="530.79" x2="505.68" y2="547.22" stroke="#000" stroke-width="2.2" stroke-linecap="butt"/>
<line x1="502.93" y1="530.79" x2="508.43" y2="530.79" stroke="#000" stroke-width="2.2" stroke-linecap="butt"/>
<line x1="502.93" y1="547.22" x2="508.43" y2="547.22" stroke="#000" stroke-width="2.2" stroke-linecap="butt"/>
<rect x="502.68" y="536" width="6" height="6" fill="#000"/>
<line x1="531.36" y1="533.25" x2="531.36" y2="540.37" stroke="#000" stroke-width="2.2" stroke-linecap="butt"/>
<line x1="528.61" y1="533.25" x2="534.11" y2="533.25" stroke="#000" stroke-width="2.2" stroke-linecap="butt"/>
<line x1="528.61" y1="540.37" x2="534.11" y2="540.37" stroke="#000" stroke-width="2.2" stroke-linecap="butt"/>
<rect x="528.36" y="533.81" width="6" height="6" fill="#000"/>
<line x1="557.04" y1="526.68" x2="557.04" y2="537.63" stroke="#000" stroke-width="2.2" stroke-linecap="butt"/>
<line x1="554.29" y1="526.68" x2="559.79" y2="526.68" stroke="#000" stroke-width="2.2" stroke-linecap="butt"/>
<line x1="554.29" y1="537.63" x2="559.79" y2="537.63" stroke="#000" stroke-width="2.2" stroke-linecap="butt"/>
<rect x="554.04" y="529.16" width="6" height="6" fill="#000"/>
<line x1="582.72" y1="516.28" x2="582.72" y2="522.85" stroke="#000" stroke-width="2.2" stroke-linecap="butt"/>
<line x1="579.97" y1="516.28" x2="585.47" y2="516.28" stroke="#000" stroke-width="2.2" stroke-linecap="butt"/>
<line x1="579.97" y1="522.85" x2="585.47" y2="522.85" stroke="#000" stroke-width="2.2" stroke-linecap="butt"/>
<rect x="579.72" y="516.56" width="6" height="6" fill="#000"/>
<rect x="605.4" y="488.91" width="6" height="6" fill="#000"/>
<line x1="634.08" y1="495.19" x2="634.08" y2="507.79" stroke="#000" stroke-width="2.2" stroke-linecap="butt"/>
<line x1="631.33" y1="495.19" x2="636.83" y2="495.19" stroke="#000" stroke-width="2.2" stroke-linecap="butt"/>
<line x1="631.33" y1="507.79" x2="636.83" y2="507.79" stroke="#000" stroke-width="2.2" stroke-linecap="butt"/>
<rect x="631.08" y="498.49" width="6" height="6" fill="#000"/>
<line x1="659.76" y1="500.12" x2="659.76" y2="514.36" stroke="#000" stroke-width="2.2" stroke-linecap="butt"/>
<line x1="657.01" y1="500.12" x2="662.51" y2="500.12" stroke="#000" stroke-width="2.2" stroke-linecap="butt"/>
<line x1="657.01" y1="514.36" x2="662.51" y2="514.36" stroke="#000" stroke-width="2.2" stroke-linecap="butt"/>
<rect x="656.76" y="504.24" width="6" height="6" fill="#000"/>
<circle cx="480" cy="542.56" r="2.95" fill="#616161"/>
<line x1="505.68" y1="530.24" x2="505.68" y2="539.55" stroke="#616161" stroke-width="2.2" stroke-linecap="butt"/>
<line x1="502.93" y1="530.24" x2="508.43" y2="530.24" stroke="#616161" stroke-width="2.2" stroke-linecap="butt"/>
<line x1="502.93" y1="539.55" x2="508.43" y2="539.55" stroke="#616161" stroke-width="2.2" stroke-linecap="butt"/>
<circle cx="505.68" cy="534.89" r="2.95" fill="#616161"/>
<line x1="531.36" y1="518.74" x2="531.36" y2="529.69" stroke="#616161" stroke-width="2.2" stroke-linecap="butt"/>
<line x1="528.61" y1="518.74" x2="534.11" y2="518.74" stroke="#616161" stroke-width="2.2" stroke-linecap="butt"/>
<line x1="528.61" y1="529.69" x2="534.11" y2="529.69" stroke="#616161" stroke-width="2.2" stroke-linecap="butt"/>
<circle cx="531.36" cy="524.22" r="2.95" fill="#616161"/>
<line x1="557.04" y1="521.48" x2="557.04" y2="532.43" stroke="#616161" stroke-width="2.2" stroke-linecap="butt"/>
<line x1="554.29" y1="521.48" x2="559.79" y2="521.48" stroke="#616161" stroke-width="2.2" stroke-linecap="butt"/>
<line x1="554.29" y1="532.43" x2="559.79" y2="532.43" stroke="#616161" stroke-width="2.2" stroke-linecap="butt"/>
<circle cx="557.04" cy="526.95" r="2.95" fill="#616161"/>
<line x1="582.72" y1="523.94" x2="582.72" y2="534.89" stroke="#616161" stroke-width="2.2" stroke-linecap="butt"/>
<line x1="579.97" y1="523.94" x2="585.47" y2="523.94" stroke="#616161" stroke-width="2.2" stroke-linecap="butt"/>
<line x1="579.97" y1="534.89" x2="585.47" y2="534.89" stroke="#616161" stroke-width="2.2" stroke-linecap="butt"/>
<circle cx="582.72" cy="529.42" r="2.95" fill="#616161"/>
<line x1="608.4" y1="480.41" x2="608.4" y2="493.55" stroke="#616161" stroke-width="2.2" stroke-linecap="butt"/>
<line x1="605.65" y1="480.41" x2="611.15" y2="480.41" stroke="#616161" stroke-width="2.2" stroke-linecap="butt"/>
<line x1="605.65" y1="493.55" x2="611.15" y2="493.55" stroke="#616161" stroke-width="2.2" stroke-linecap="butt"/>
<circle cx="608.4" cy="486.98" r="2.95" fill="#616161"/>
<line x1="634.08" y1="476.3" x2="634.08" y2="485.61" stroke="#616161" stroke-width="2.2" stroke-linecap="butt"/>
<line x1="631.33" y1="476.3" x2="636.83" y2="476.3" stroke="#616161" stroke-width="2.2" stroke-linecap="butt"/>
<line x1="631.33" y1="485.61" x2="636.83" y2="485.61" stroke="#616161" stroke-width="2.2" stroke-linecap="butt"/>
<circle cx="634.08" cy="480.96" r="2.95" fill="#616161"/>
<line x1="659.76" y1="484.52" x2="659.76" y2="495.47" stroke="#616161" stroke-width="2.2" stroke-linecap="butt"/>
<line x1="657.01" y1="484.52" x2="662.51" y2="484.52" stroke="#616161" stroke-width="2.2" stroke-linecap="butt"/>
<line x1="657.01" y1="495.47" x2="662.51" y2="495.47" stroke="#616161" stroke-width="2.2" stroke-linecap="butt"/>
<circle cx="659.76" cy="489.99" r="2.95" fill="#616161"/>
<line x1="480" y1="547.22" x2="480" y2="554.33" stroke="#a0a0a0" stroke-width="2.2" stroke-linecap="butt"/>
<line x1="477.25" y1="547.22" x2="482.75" y2="547.22" stroke="#a0a0a0" stroke-width="2.2" stroke-linecap="butt"/>
<line x1="477.25" y1="554.33" x2="482.75" y2="554.33" stroke="#a0a0a0" stroke-width="2.2" stroke-linecap="butt"/>
<polygon points="480,547.38 483.4,553.32 476.6,553.32" fill="#a0a0a0"/>
<polygon points="505.68,539.43 509.08,545.38 502.28,545.38" fill="#a0a0a0"/>
<polygon points="531.36,540.8 534.76,546.75 527.96,546.75" fill="#a0a0a0"/>
<line x1="557.04" y1="542.01" x2="557.04" y2="547.49" stroke="#a0a0a0" stroke-width="2.2" stroke-linecap="butt"/>
<line x1="554.29" y1="542.01" x2="559.79" y2="542.01" stroke="#a0a0a0" stroke-width="2.2" stroke-linecap="butt"/>
<line x1="554.29" y1="547.49" x2="559.79" y2="547.49" stroke="#a0a0a0" stroke-width="2.2" stroke-linecap="butt"/>
<polygon points="557.04,541.35 560.44,547.3 553.64,547.3" fill="#a0a0a0"/>
<polygon points="582.72,537.52 586.12,543.47 579.32,543.47" fill="#a0a0a0"/>
<polygon points="608.4,523.55 611.8,529.5 605,529.5" fill="#a0a0a0"/>
<polygon points="634.08,532.32 637.48,538.27 630.68,538.27" fill="#a0a0a0"/>
<line x1="659.76" y1="537.63" x2="659.76" y2="545.3" stroke="#a0a0a0" stroke-width="2.2" stroke-linecap="butt"/>
<line x1="657.01" y1="537.63" x2="662.51" y2="537.63" stroke="#a0a0a0" stroke-width="2.2" stroke-linecap="butt"/>
<line x1="657.01" y1="545.3" x2="662.51" y2="545.3" stroke="#a0a0a0" stroke-width="2.2" stroke-linecap="butt"/>
<polygon points="659.76,538.07 663.16,544.02 656.36,544.02" fill="#a0a0a0"/>
<text x="0" y="0" font-size="11" text-anchor="middle" font-weight="bold" fill="#000" transform="translate(634.08 473.3)">***</text>
<text x="0" y="0" font-size="11" text-anchor="middle" font-weight="bold" fill="#000" transform="translate(659.76 484.8)">***</text>
<line x1="477.9" y1="448.2" x2="492" y2="448.2" stroke="#a0a0a0" stroke-width="2.6" stroke-linecap="butt"/>
<polygon points="484.95,444.8 488.35,450.75 481.55,450.75" fill="#a0a0a0"/>
<text x="0" y="0" font-size="9.4" text-anchor="start" font-weight="bold" fill="#000" letter-spacing="-0.135" transform="translate(501.3 451.6)" stroke="#000" stroke-width="0.15">DDC-CK</text>
<line x1="477.9" y1="457.8" x2="492" y2="457.8" stroke="#616161" stroke-width="2.6" stroke-linecap="butt"/>
<circle cx="484.95" cy="457.8" r="2.95" fill="#616161"/>
<text x="0" y="0" font-size="9.4" text-anchor="start" font-weight="bold" fill="#000" letter-spacing="0.017" transform="translate(500.1 461.2)" stroke="#000" stroke-width="0.15">CMC-CK</text>
<line x1="477.9" y1="467.4" x2="492" y2="467.4" stroke="#000" stroke-width="2.6" stroke-linecap="butt"/>
<rect x="481.95" y="464.4" width="6" height="6" fill="#000"/>
<text x="0" y="0" font-size="9.4" text-anchor="start" font-weight="bold" fill="#000" letter-spacing="0.421" transform="translate(500.1 470.8)" stroke="#000" stroke-width="0.15">CMC-MJ</text>
<text x="0" y="0" font-size="9.7" text-anchor="start" font-weight="bold" fill="#000" letter-spacing="0.126" transform="translate(528.8 614.5)" stroke="#000" stroke-width="0.15">Induction time (h)</text>
<text x="0" y="0" font-size="10.2" text-anchor="middle" font-weight="bold" fill="#000" transform="translate(442.7 516) rotate(-90) scale(0.9573 1)" stroke="#000" stroke-width="0.15">Dry cell weight (g)</text>
<text x="0" y="0" font-size="17.3" text-anchor="start" font-weight="bold" fill="#000" transform="translate(420.5 436) scale(0.8700 1)" stroke="#000" stroke-width="0.15">g</text>
</svg>
</body></html>
